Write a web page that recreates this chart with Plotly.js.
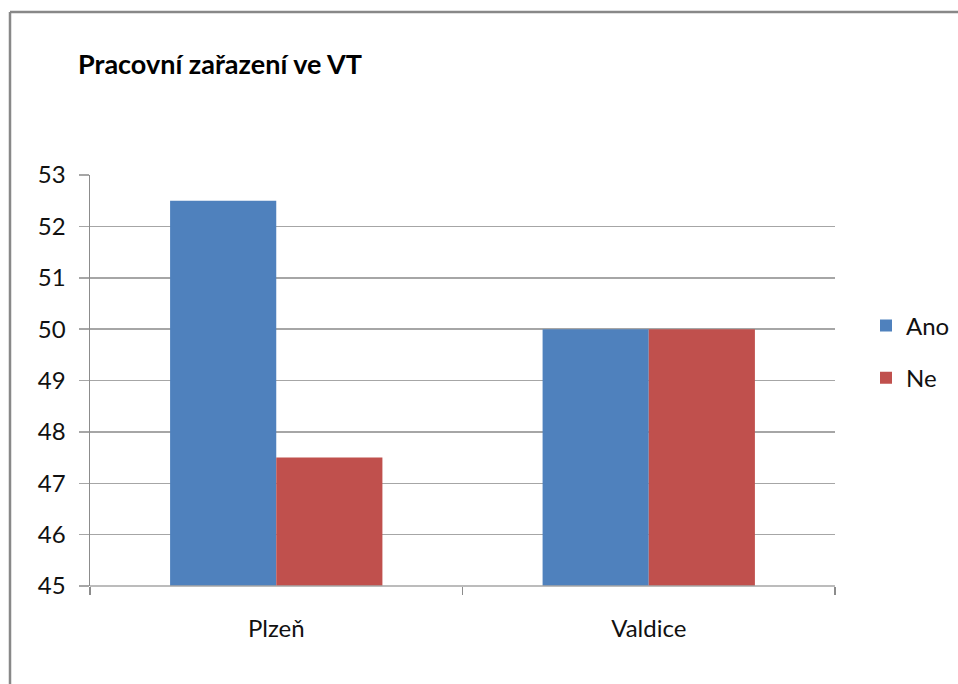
<!DOCTYPE html>
<html>
<head>
<meta charset="utf-8">
<script src="https://cdn.plot.ly/plotly-3.0.1.min.js"></script>
<style>html,body{margin:0;padding:0;background:#fff;}#chart{width:958px;height:684px;}</style>
</head>
<body>
<div id="chart"></div>
<script>
const categories = ["Plzeň", "Valdice"];
const anoValues = [52.5, 50];
const neValues = [47.5, 50];
const seriesNames = ["Ano", "Ne"];
const yTicks = [45, 46, 47, 48, 49, 50, 51, 52, 53];

const FONT = "Lato, 'Noto Sans', sans-serif";
const TXT = "#111";
const traces = [
  {type: "bar", name: seriesNames[0], x: categories, y: anoValues, marker: {color: "#4F81BD"}, legendgroup: "a", hoverinfo: "y"},
  {type: "bar", name: seriesNames[1], x: categories, y: neValues, marker: {color: "#C0504D"}, legendgroup: "b", hoverinfo: "y"}
];

const W = 958, H = 684, L = 90, R = 835, T = 175, B = 586;
const px2x = p => (p - L) / (R - L);
const px2y = p => (B - p) / (B - T);

const layout = {
  width: W, height: H,
  margin: {l: L, r: W - R, t: T, b: H - B, pad: 0, autoexpand: false},
  paper_bgcolor: "#fff", plot_bgcolor: "#fff",
  font: {family: FONT, size: 24, color: TXT},
  title: {text: "<b>Pracovní zařazení ve VT</b>", x: 78 / W, xref: "container", xanchor: "left",
          y: 1 - 65 / H, yref: "container", yanchor: "middle",
          font: {family: FONT, size: 27, color: "#000"}},
  barmode: "group",
  bargap: 0.43,
  bargroupgap: 0,
  showlegend: true,
  legend: {x: px2x(866), xanchor: "left", y: px2y(352), yanchor: "middle", yref: "paper", xref: "paper",
           font: {family: FONT, size: 24, color: TXT}, tracegroupgap: 18, itemwidth: 30,
           bgcolor: "rgba(0,0,0,0)"},
  xaxis: {type: "category", showgrid: false, showline: false, ticks: "outside", tickson: "boundaries",
          ticklen: 8, tickcolor: "#8c8c8c", tickwidth: 1.5, ticklabelstandoff: 26,
          tickfont: {family: FONT, size: 24, color: TXT}, zeroline: false, fixedrange: true},
  yaxis: {range: [45, 53], tickvals: yTicks, ticktext: yTicks.map(String), showgrid: true, gridcolor: "#a6a6a6", gridwidth: 1.5,
          showline: true, linecolor: "#8c8c8c", linewidth: 1.5, ticks: "outside", ticklen: 10, tickcolor: "#a6a6a6", tickwidth: 1.5,
          ticklabelstandoff: 8, tickfont: {family: FONT, size: 24, color: TXT}, zeroline: false, fixedrange: true},
  shapes: [
    {type: "line", xref: "paper", yref: "paper", x0: 0, x1: 1, y0: 0, y1: 0, line: {color: "#a6a6a6", width: 1.5}, layer: "above"},
    {type: "line", xref: "paper", yref: "paper", x0: px2x(10), x1: px2x(960), y0: px2y(12), y1: px2y(12), line: {color: "#888", width: 2.5}},
    {type: "line", xref: "paper", yref: "paper", x0: px2x(10), x1: px2x(10), y0: px2y(12), y1: px2y(700), line: {color: "#888", width: 2.5}}
  ]
};

Plotly.newPlot("chart", traces, layout, {displayModeBar: false, staticPlot: true});
</script>
</body>
</html>
